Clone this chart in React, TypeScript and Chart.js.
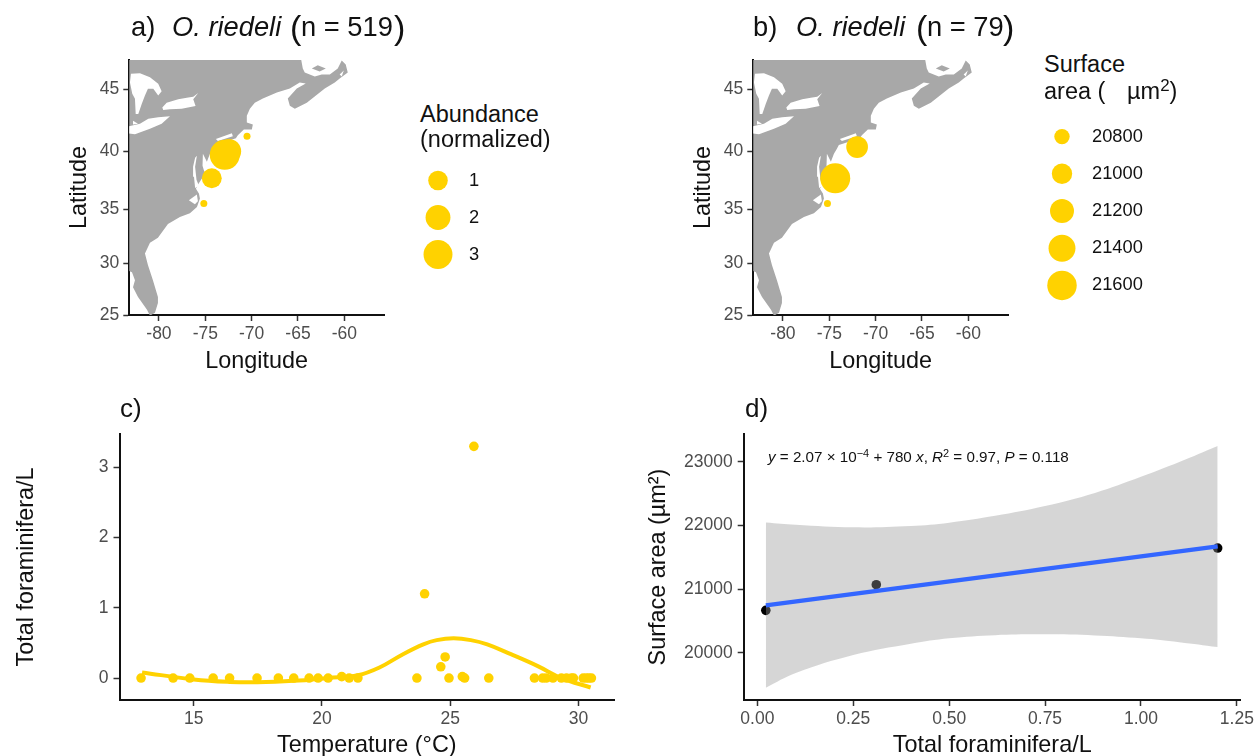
import React, { useEffect, useRef } from "react";
import { Chart, registerables } from "chart.js";

Chart.register(...registerables);
Chart.defaults.font.family = "'Liberation Sans', Arial, sans-serif";

// ---------- data ----------
const landCoast = [
  [-64.81, 47.8], [-64.48, 46.57], [-64.27, 46.27], [-63.19, 45.96], [-62.44, 46.11], [-61.57, 46.11],
  [-60.71, 46.57], [-60.28, 47.17], [-59.85, 46.87], [-59.63, 46.27], [-60.5, 45.81], [-61.03, 45.51],
  [-62.11, 45.05], [-64.05, 43.94], [-65.34, 43.47], [-65.88, 43.7], [-66.1, 44.26], [-65.13, 45.05],
  [-64.16, 45.43], [-64.81, 45.51], [-65.88, 45.05], [-67.28, 44.74], [-68.79, 44.26], [-69.66, 43.94],
  [-70.19, 43.47], [-70.52, 42.91], [-70.52, 42.36], [-69.87, 42.2], [-69.98, 41.8], [-70.84, 41.8],
  [-71.49, 41.33], [-71.7, 41.08], [-73.97, 40.53], [-74.18, 40.21], [-74.5, 39.8], [-74.83, 39.11],
  [-75.26, 39.8], [-75.3, 38.77], [-75.04, 38.09], [-75.8, 37.14], [-76.01, 36.8], [-75.69, 36.37],
  [-75.58, 35.94], [-75.9, 35.18], [-76.66, 34.63], [-77.74, 34.28], [-79.03, 33.64], [-80.11, 32.38],
  [-80.97, 31.93], [-81.51, 30.93], [-81.19, 29.84], [-80.65, 28.39], [-80.11, 26.76], [-80.11, 26.18],
  [-80.43, 25.22], [-80.97, 24.93], [-81.29, 25.51], [-82.26, 26.76], [-82.8, 27.72], [-82.59, 28.39],
  [-82.91, 29.16], [-83.45, 29.36], [-84.42, 29.36], [-84.42, 47.8],
];
const princeEdwardIsland = [[-63.51, 46.57], [-62.87, 46.8], [-62.0, 46.57], [-62.66, 46.34]];
const lakeHuron = [
  [-83.02, 46.17], [-82.05, 46.21], [-80.97, 45.91], [-80.08, 45.41], [-79.71, 44.84], [-80.08, 44.5],
  [-80.61, 45.03], [-81.19, 45.03], [-81.51, 44.5], [-81.86, 43.84], [-82.23, 43.05], [-82.51, 43.05],
  [-82.59, 44.24], [-82.88, 44.63], [-83.13, 45.51],
];
const lakeErie = [
  [-83.66, 41.98], [-82.05, 42.27], [-81.15, 42.67], [-80.08, 42.78], [-78.81, 42.86], [-79.71, 42.27],
  [-80.97, 41.86], [-82.59, 41.4], [-83.66, 41.51],
];
const lakeStClair = [[-82.8, 42.51], [-82.26, 42.27], [-82.8, 42.2]];
const lakeOntario = [
  [-79.64, 43.55], [-79.17, 43.94], [-77.92, 44.21], [-76.84, 44.35], [-76.3, 44.41], [-75.76, 44.69],
  [-76.3, 44.21], [-76.05, 43.68], [-77.55, 43.47], [-78.81, 43.42], [-79.54, 43.37],
];
const longIslandSound = [[-72.13, 41.48], [-73.86, 41.01], [-73.64, 40.85], [-72.03, 41.24]];
const chesapeakeBay = [
  [-75.91, 39.63], [-76.1, 38.69], [-75.95, 37.57], [-75.69, 37.06], [-76.1, 36.85], [-76.22, 37.83],
  [-76.32, 38.69], [-76.1, 39.46],
];
const pamlicoSound = [[-75.91, 36.29], [-76.77, 35.77], [-76.12, 35.43], [-75.8, 35.69]];
const brasDOr = [[-60.5, 46.11], [-60.06, 46.42], [-60.28, 45.96]];

const siteLonA = [-72.9, -72.45, -74.3, -75.16, -70.5];
const siteLatA = [39.7, 40.0, 37.7, 35.5, 41.25];
const abundanceA = [3.3, 1.9, 1.05, 0.02, 0.02];
const legendAbundance = [1, 2, 3];

const siteLonB = [-74.36, -72.0, -75.2];
const siteLatB = [37.7, 40.35, 35.5];
const surfaceAreaB = [21644, 21068, 20670];
const legendSurface = [20800, 21000, 21200, 21400, 21600];

const lonTicks = [-80, -75, -70, -65, -60];
const latTicks = [25, 30, 35, 40, 45];

const tempC = [
  12.95, 14.2, 14.85, 15.76, 16.4, 17.47, 18.3, 18.9, 19.5, 19.85, 20.24, 20.77, 21.06, 21.4, 23.7, 24.0, 24.63,
  24.8, 24.95, 25.47, 25.56, 25.92, 26.5, 28.28, 28.6, 28.74, 29.0, 29.33, 29.53, 29.72, 29.8, 30.18, 30.3, 30.4, 30.5,
];
const totalForamC = [
  0, 0, 0, 0, 0, 0, 0, 0, 0, 0, 0, 0.02, 0, 0, 0, 1.2, 0.16, 0.3, 0, 0.02, 0, 3.3, 0, 0, 0, 0, 0, 0, 0, 0, 0, 0, 0, 0, 0,
];
const curveTemp = [12.99, 15, 16.4, 17.47, 18.9, 20.24, 21.4, 22.24, 23.16, 23.95, 24.47, 25.13, 25.8, 26.44, 27.36, 28.41, 29.33, 30.47];
const curveForam = [0.08, -0.02, -0.055, -0.06, -0.04, 0, 0.04, 0.15, 0.34, 0.48, 0.54, 0.565, 0.54, 0.48, 0.34, 0.17, 0, -0.135];
const tempTicks = [15, 20, 25, 30];
const foramTicks = [0, 1, 2, 3];

const foramD = [0.022, 0.31, 1.2];
const surfaceD = [20665, 21068, 21644];
const fitX = [0.022, 1.2];
const fitY = [20743, 21670];
const bandX = [0.022, 0.1, 0.25, 0.4, 0.5, 0.62, 0.75, 0.88, 1.0, 1.1, 1.2];
const bandUpper = [22046, 22010, 21969, 21990, 22042, 22150, 22304, 22510, 22764, 22995, 23246];
const bandLower = [19450, 19680, 19963, 20140, 20225, 20275, 20288, 20270, 20225, 20165, 20089];
const foramDTicks = [0, 0.25, 0.5, 0.75, 1, 1.25];
const surfaceTicks = [20000, 21000, 22000, 23000];

// ---------- helpers ----------
const GOLD = "#FFD200";
const LAND = "#A8A8A8";
const rad = Math.PI / 180;
const merc = (lat: number) => Math.log(Math.tan(Math.PI / 4 + (lat * rad) / 2));
const invMerc = (m: number) => (2 * Math.atan(Math.exp(m)) - Math.PI / 2) / rad;
const sizeToRadius = (v: number, lo: number, hi: number) => 3.5 + 11.5 * Math.sqrt(Math.max(0, (v - lo) / (hi - lo)));

const AXIS_FONT = 17.5;
const TITLE_FONT = 23.4;

function axis(o: any) {
  return {
    type: "linear",
    min: o.min,
    max: o.max,
    position: o.position,
    border: { display: true, color: "#111", width: 2 },
    grid: { display: true, drawOnChartArea: false, drawTicks: true, tickLength: 6, tickWidth: 1.5, tickColor: "#333" },
    ticks: {
      color: "#4d4d4d",
      font: { size: AXIS_FONT },
      padding: o.tickPad ?? 3,
      maxRotation: 0,
      minRotation: 0,
      autoSkip: false,
      callback: o.fmt,
    },
    title: { display: true, text: o.title, color: "#111", font: { size: TITLE_FONT }, padding: o.titlePad },
    afterBuildTicks: (s: any) => {
      s.ticks = o.ticks.map((value: number) => ({ value }));
    },
    afterFit: (s: any) => {
      if (o.position === "bottom") s.height = o.thick;
      else s.width = o.thick;
    },
  };
}

function polygon(points: number[][], color: string, order: number) {
  return {
    type: "line",
    data: points.map(([lon, lat]) => ({ x: lon, y: merc(lat) })),
    fill: "shape",
    backgroundColor: color,
    borderColor: color,
    borderWidth: 0,
    pointRadius: 0,
    tension: 0,
    order,
  };
}

const mapLayers = () => [
  polygon(landCoast, LAND, 6),
  polygon(princeEdwardIsland, LAND, 6),
  polygon(lakeHuron, "#fff", 4),
  polygon(lakeErie, "#fff", 4),
  polygon(lakeStClair, "#fff", 4),
  polygon(lakeOntario, "#fff", 4),
  polygon(longIslandSound, "#fff", 4),
  polygon(chesapeakeBay, "#fff", 4),
  polygon(pamlicoSound, "#fff", 4),
  polygon(brasDOr, "#fff", 4),
];

const basePlugins = { legend: { display: false }, tooltip: { enabled: false }, title: { display: false } };

function mapConfig(lons: number[], lats: number[], vals: number[], lo: number, hi: number, yWidth: number) {
  return {
    type: "bubble",
    data: {
      datasets: [
        ...mapLayers(),
        {
          type: "bubble",
          data: lons.map((x, i) => ({ x, y: merc(lats[i]), r: sizeToRadius(vals[i], lo, hi) })),
          backgroundColor: GOLD,
          borderWidth: 0,
          order: 1,
        },
      ],
    },
    options: {
      responsive: false,
      animation: false,
      events: [],
      layout: { autoPadding: false, padding: { top: 20, right: 16, left: 0, bottom: 0 } },
      plugins: basePlugins,
      scales: {
        x: axis({
          min: -83.2, max: -55.72, position: "bottom", ticks: lonTicks, title: "Longitude",
          thick: 65, titlePad: { top: 0, bottom: 4 }, fmt: (v: number) => String(v),
        }),
        y: axis({
          min: merc(25), max: merc(47.2), position: "left", ticks: latTicks.map(merc), title: "Latitude",
          thick: yWidth, titlePad: { top: 6, bottom: 0 }, fmt: (v: number) => String(Math.round(invMerc(v))), tickPad: 4,
        }),
      },
    },
  };
}

function legendConfig(values: number[], lo: number, hi: number, pad: number) {
  const labels = values.map(String);
  return {
    type: "bubble",
    data: {
      datasets: [
        {
          data: values.map((v, i) => ({ x: 0, y: labels[i], r: sizeToRadius(v, lo, hi) })),
          backgroundColor: GOLD,
          borderWidth: 0,
        },
      ],
    },
    options: {
      responsive: false,
      animation: false,
      events: [],
      layout: { autoPadding: false, padding: { top: 20, bottom: 20 } },
      plugins: basePlugins,
      scales: {
        x: { type: "linear", min: -1, max: 1, display: false },
        y: {
          type: "category",
          labels,
          position: "right",
          offset: true,
          border: { display: false },
          grid: { display: false, drawTicks: false },
          ticks: { color: "#111", font: { size: 18.3 }, padding: pad, autoSkip: false },
          afterFit: (s: any) => {
            s.width = 74;
          },
        },
      },
    },
  };
}

const configC = () => ({
  type: "scatter",
  data: {
    datasets: [
      {
        type: "line",
        data: curveTemp.map((x, i) => ({ x, y: curveForam[i] })),
        borderColor: GOLD,
        borderWidth: 4,
        pointRadius: 0,
        tension: 0.4,
        fill: false,
        order: 1,
      },
      {
        type: "scatter",
        data: tempC.map((x, i) => ({ x, y: totalForamC[i] })),
        backgroundColor: GOLD,
        borderWidth: 0,
        pointRadius: 4.8,
        order: 2,
      },
    ],
  },
  options: {
    responsive: false,
    animation: false,
    events: [],
    layout: { autoPadding: false, padding: { top: 20, right: 16 } },
    plugins: basePlugins,
    scales: {
      x: axis({
        min: 12.11, max: 31.38, position: "bottom", ticks: tempTicks, title: "Temperature (°C)",
        thick: 60, titlePad: { top: 0, bottom: 0 }, fmt: (v: number) => String(v),
      }),
      y: axis({
        min: -0.313, max: 3.476, position: "left", ticks: foramTicks, title: "Total foraminifera/L",
        thick: 119.5, titlePad: { top: 13, bottom: 0 }, fmt: (v: number) => String(v), tickPad: 5,
      }),
    },
  },
});

const configD = () => ({
  type: "scatter",
  data: {
    datasets: [
      {
        type: "line",
        data: bandX.map((x, i) => ({ x, y: bandUpper[i] })),
        borderWidth: 0,
        pointRadius: 0,
        tension: 0.4,
        fill: "+1",
        backgroundColor: "rgba(153,153,153,0.4)",
        order: 2,
      },
      {
        type: "line",
        data: bandX.map((x, i) => ({ x, y: bandLower[i] })),
        borderWidth: 0,
        pointRadius: 0,
        tension: 0.4,
        fill: false,
        order: 2,
      },
      {
        type: "scatter",
        data: foramD.map((x, i) => ({ x, y: surfaceD[i] })),
        backgroundColor: "#000",
        borderWidth: 0,
        pointRadius: 4.8,
        order: 3,
      },
      {
        type: "line",
        data: fitX.map((x, i) => ({ x, y: fitY[i] })),
        borderColor: "#3366FF",
        borderWidth: 4.4,
        pointRadius: 0,
        fill: false,
        order: 1,
      },
    ],
  },
  options: {
    responsive: false,
    animation: false,
    events: [],
    layout: { autoPadding: false, padding: { top: 20, right: 16 } },
    plugins: basePlugins,
    scales: {
      x: axis({
        min: -0.0357, max: 1.26, position: "bottom", ticks: foramDTicks, title: "Total foraminifera/L",
        thick: 60, titlePad: { top: 0, bottom: 0 }, fmt: (v: number) => v.toFixed(2),
      }),
      y: axis({
        min: 19257, max: 23435, position: "left", ticks: surfaceTicks, title: "Surface area (µm²)",
        thick: 113.7, titlePad: { top: 15, bottom: 0 }, fmt: (v: number) => String(v), tickPad: 5,
      }),
    },
  },
});

function Plot({ left, top, width, height, make }: any) {
  const ref = useRef<HTMLCanvasElement>(null);
  useEffect(() => {
    const chart = new Chart(ref.current as any, make());
    return () => chart.destroy();
  }, []);
  return <canvas ref={ref} width={width} height={height} style={{ position: "absolute", left, top, width, height, display: "block" }} />;
}

function T({ x, y, size = 27.3, italic, children }: any) {
  return (
    <span
      style={{
        position: "absolute",
        left: x,
        top: y,
        transform: "translateY(-50%)",
        fontSize: size,
        fontStyle: italic ? "italic" : "normal",
        whiteSpace: "pre",
        lineHeight: 1,
        color: "#111",
        fontFamily: "'Liberation Sans', Arial, sans-serif",
      }}
    >
      {children}
    </span>
  );
}

export default function App() {
  const sup = { fontSize: "0.72em", verticalAlign: "0.5em", lineHeight: 0 } as const;
  return (
    <div style={{ position: "fixed", left: 0, top: 0, width: 1257, height: 756, background: "#fff", overflow: "hidden" }}>
      <Plot left={60} top={40} width={340} height={340} make={() => mapConfig(siteLonA, siteLatA, abundanceA, 0.02, 3.3, 69.3)} />
      <Plot left={684} top={40} width={340} height={340} make={() => mapConfig(siteLonB, siteLatB, surfaceAreaB, 20670, 21644, 69.3)} />
      <Plot left={0} top={414} width={630} height={346} make={configC} />
      <Plot left={630} top={414} width={627} height={346} make={configD} />
      <Plot left={420} top={138} width={110} height={159} make={() => legendConfig(legendAbundance, 0.02, 3.3, 13)} />
      <Plot left={1044} top={95} width={110} height={232} make={() => legendConfig(legendSurface, 20670, 21644, 12)} />

      <T x={131} y={27}>a)</T>
      <T x={172} y={27} italic>O. riedeli</T>
      <T x={290} y={27} size={34}>(</T>
      <T x={301} y={27}>n = 519</T>
      <T x={394} y={27} size={34}>)</T>

      <T x={753} y={27}>b)</T>
      <T x={796} y={27} italic>O. riedeli</T>
      <T x={916} y={27} size={34}>(</T>
      <T x={927} y={27}>n = 79</T>
      <T x={1003} y={27} size={34}>)</T>

      <T x={120} y={408} size={26}>c)</T>
      <T x={745} y={408} size={26}>d)</T>

      <T x={420} y={115} size={23.5}>Abundance</T>
      <T x={420} y={140} size={23.5}>(normalized)</T>

      <T x={1044} y={65} size={23.5}>Surface</T>
      <T x={1044} y={92} size={23.5}>area (</T>
      <T x={1127} y={92} size={23.5}>µm<span style={sup}>2</span>)</T>

      <T x={768} y={457} size={15.2}>
        <i>y</i> = 2.07 × 10<span style={sup}>−4</span> + 780 <i>x</i>, <i>R</i><span style={sup}>2</span> = 0.97, <i>P</i> = 0.118
      </T>
    </div>
  );
}
